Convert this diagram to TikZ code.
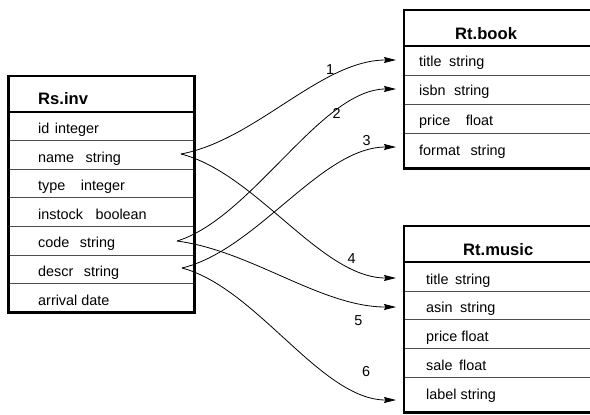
\documentclass[tikz,border=0pt]{standalone}
\usepackage{fontspec}
\setmainfont{Liberation Sans}
\usetikzlibrary{arrows.meta}
\begin{document}
\begin{tikzpicture}[x=1bp,y=-1bp,
  frame/.style={line width=2.4bp},
  sepline/.style={line width=0.9bp, black!70},
  rowtxt/.style={anchor=base west, inner sep=0pt, font=\fontsize{14.4bp}{16bp}\selectfont},
  headtxt/.style={anchor=base west, inner sep=0pt, font=\fontsize{16.6bp}{18bp}\selectfont\bfseries},
  numtxt/.style={inner sep=0pt, font=\fontsize{14.4bp}{16bp}\selectfont},
  link/.style={line width=0.8bp, -{Stealth[length=12bp,width=6bp,inset=1.5bp]}}
]
\useasboundingbox (0,0) rectangle (590,414);
\begin{scope}
\clip (0,0) rectangle (590,414);
% ---------- Rs.inv ----------
\foreach \yy in {140.5,169,197.7,226.3,255,283.6}
  \draw[sepline] (8.3,\yy) -- (194.5,\yy);
\draw[frame] (8.3,111.7) -- (194.5,111.7);
\draw[frame] (8.3,76) rectangle (194.5,312.3);
% ---------- Rt.book ----------
\foreach \yy in {75,104,133}
  \draw[sepline] (404,\yy) -- (600,\yy);
\draw[frame] (404,46) -- (600,46);
\draw[frame] (404,10) rectangle (600,168.5);
% ---------- Rt.music ----------
\foreach \yy in {291,319.5,348,377}
  \draw[sepline] (404,\yy) -- (600,\yy);
\draw[frame] (404,262) -- (600,262);
\draw[frame] (404,226) rectangle (600,412.5);
\end{scope}

% texts Rs.inv
\node[headtxt] (invhead) at (38,104.3) {Rs.inv};
\node[rowtxt] (invid) at (38,133.3) {id\hspace{5.5bp}integer};
\node[rowtxt] (invname) at (38,162.3) {name\hspace{11.5bp}string};
\node[rowtxt] (invtype) at (38,190.7) {type\hspace{15.5bp}integer};
\node[rowtxt] (invstock) at (38,219) {instock\hspace{12.5bp}boolean};
\node[rowtxt] (invcode) at (38,247.3) {code\hspace{10.5bp}string};
\node[rowtxt] (invdescr) at (38,276) {descr\hspace{10.5bp}string};
\node[rowtxt] (invarr) at (38,305) {arrival date};

% texts Rt.book
\node[headtxt] (bookhead) at (455,39) {Rt.book};
\node[rowtxt] (booktitle) at (419,66.7) {title\hspace{7.5bp}string};
\node[rowtxt] (bookisbn) at (419,95.7) {isbn\hspace{8.5bp}string};
\node[rowtxt] (bookprice) at (419,125) {price\hspace{15.5bp}float};
\node[rowtxt] (bookformat) at (419,155) {format\hspace{10.5bp}string};

% texts Rt.music
\node[headtxt] (mushead) at (463,255) {Rt.music};
\node[rowtxt] (mustitle) at (426,284.3) {title\hspace{6.5bp}string};
\node[rowtxt] (musasin) at (426,312.7) {asin\hspace{7.5bp}string};
\node[rowtxt] (musprice) at (426,341.7) {price float};
\node[rowtxt] (mussale) at (426,370.7) {sale\hspace{6.5bp}float};
\node[rowtxt] (muslabel) at (426,399) {label string};

% connector ends
\coordinate (sname) at (181,154);
\coordinate (scode) at (177,241);
\coordinate (sdescr) at (182,268);
\coordinate (etitle) at (396,60);
\coordinate (eisbn) at (396,89);
\coordinate (eformat) at (396,147);
\coordinate (emtitle) at (396,278);
\coordinate (emasin) at (396,307);
\coordinate (emlabel) at (396,400);

\draw[link] (sname) .. controls +(75,-14) and +(-75,0) .. (etitle);
\draw[link] (scode) .. controls +(75,-23) and +(-75,0) .. (eisbn);
\draw[link] (sdescr) .. controls +(75,-18) and +(-75,0) .. (eformat);
\draw[link] (sname) .. controls +(75,19) and +(-75,0) .. (emtitle);
\draw[link] (scode) .. controls +(75,10) and +(-75,0) .. (emasin);
\draw[link] (sdescr) .. controls +(75,20) and +(-75,0) .. (emlabel);

\node[numtxt] (n1) at (330,70) {1};
\node[numtxt] (n2) at (336.7,113.3) {2};
\node[numtxt] (n3) at (366.7,140.7) {3};
\node[numtxt] (n4) at (351.7,258.3) {4};
\node[numtxt] (n5) at (358.3,321) {5};
\node[numtxt] (n6) at (366,372) {6};
\end{tikzpicture}
\end{document}
